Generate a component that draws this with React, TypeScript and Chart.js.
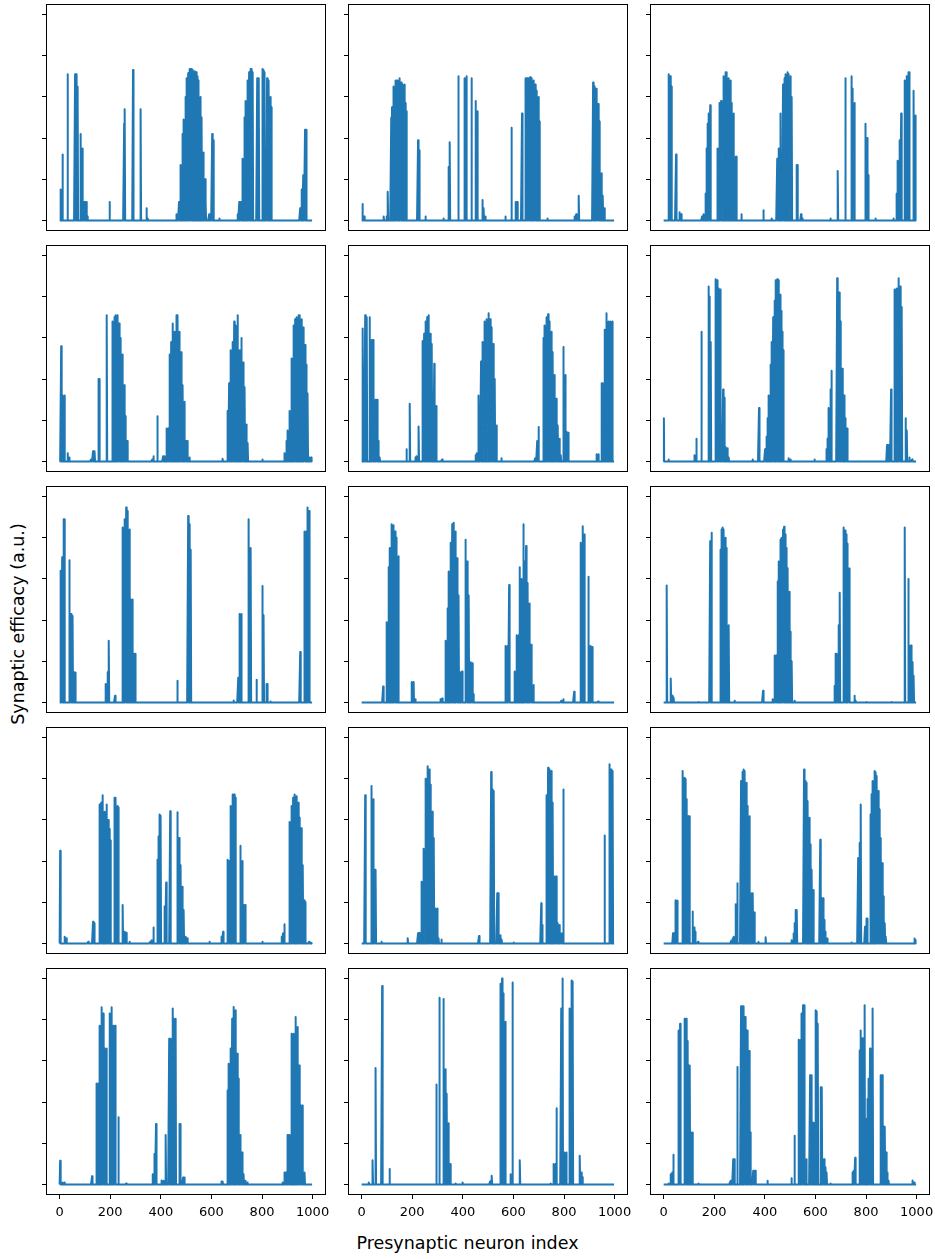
import React, { useEffect, useRef } from "react";
import { Chart, registerables } from "chart.js";

Chart.register(...registerables);
Chart.defaults.font.family = "'DejaVu Sans', sans-serif";

type Pair = [number, number];

// ---- data ----
const N_NEURONS = 1000;
const xTicks = [0, 200, 400, 600, 800, 1000];
const yTicks = [0, 0.2, 0.4, 0.6, 0.8, 1.0];
const xLabel = "Presynaptic neuron index";
const yLabel = "Synaptic efficacy (a.u.)";

// [neuron index, efficacy] for each panel (row by row); all other neurons are 0
const w1: Pair[] = [[3,0.15],[11,0.32],[32,0.71],[61,0.71],[68,0.71],[72,0.65],[84,0.42],[90,0.35],[97,0.09],[102,0.09],[106,0.09],[111,0.02],[197,0.09],[255,0.47],[258,0.54],[290,0.73],[321,0.54],[343,0.06],[349,0.01],
  [462,0.03],[472,0.09],[479,0.27],[485,0.42],[491,0.49],[498,0.6],[503,0.69],[508,0.715],[514,0.735],[520,0.735],[527,0.73],[533,0.725],[540,0.72],[545,0.7],[549,0.68],[556,0.6],[562,0.5],[569,0.33],[575,0.2],[578,0.09],
  [591,0.03],[603,0.42],[607,0.39],[632,0.01],
  [704,0.03],[710,0.09],[717,0.09],[723,0.3],[730,0.5],[736,0.58],[743,0.68],[749,0.72],[754,0.735],[759,0.735],[764,0.72],[781,0.69],[788,0.69],[801,0.735],[806,0.73],[810,0.72],[820,0.69],[827,0.68],[833,0.6],[836,0.55],
  [951,0.06],[957,0.15],[963,0.22],[970,0.44],[975,0.44]];
const w2: Pair[] = [[3,0.08],[10,0.02],[88,0.02],[98,0.02],[104,0.14],[117,0.5],[120,0.55],[127,0.65],[133,0.68],[140,0.68],[149,0.69],[156,0.67],[162,0.66],[169,0.66],[175,0.57],[178,0.53],[223,0.39],[228,0.34],[252,0.02],[324,0.01],[344,0.26],[349,0.38],[382,0.7],[408,0.69],[414,0.7],[435,0.69],[451,0.58],[458,0.53],[477,0.1],[483,0.06],[490,0.02],[568,0.02],[592,0.45],[608,0.09],[615,0.09],[634,0.52],[647,0.69],[654,0.69],[660,0.69],[666,0.695],[673,0.69],[679,0.68],[686,0.66],[692,0.63],[699,0.6],[702,0.48],[734,0.01],[842,0.02],[848,0.03],[859,0.12],[915,0.67],[921,0.65],[927,0.64],[935,0.565],[941,0.48],[948,0.23],[954,0.12],[960,0.06]];
const w3: Pair[] = [[20,0.71],[26,0.7],[32,0.65],[49,0.32],[63,0.04],[69,0.03],[152,0.02],[158,0.03],[165,0.13],[171,0.35],[175,0.47],[179,0.52],[184,0.56],[213,0.35],[220,0.57],[227,0.58],[237,0.7],[244,0.72],[250,0.72],[258,0.69],[264,0.68],[270,0.57],[277,0.52],[285,0.31],[287,0.31],[307,0.03],[395,0.05],[428,0.01],[449,0.3],[456,0.35],[461,0.52],[472,0.66],[477,0.69],[482,0.71],[489,0.72],[493,0.71],[501,0.7],[507,0.6],[527,0.27],[530,0.27],[543,0.03],[549,0.01],[659,0.01],[689,0.24],[718,0.69],[742,0.7],[747,0.64],[754,0.57],[798,0.47],[804,0.4],[809,0.22],[837,0.01],[909,0.01],[920,0.13],[926,0.29],[933,0.39],[939,0.52],[954,0.68],[961,0.7],[967,0.72],[972,0.72],[989,0.63],[996,0.51]];
const w4: Pair[] = [[6,0.56],[13,0.32],[19,0.32],[32,0.04],[39,0.02],[124,0.01],[132,0.05],[139,0.05],[153,0.4],[158,0.4],[187,0.71],[209,0.68],[216,0.7],[222,0.71],[229,0.71],[235,0.67],[242,0.6],[248,0.52],[255,0.37],[261,0.22],[267,0.1],[366,0.01],[371,0.025],[387,0.22],[409,0.025],[416,0.025],[422,0.16],[429,0.16],[435,0.52],[441,0.58],[448,0.67],[454,0.63],[461,0.71],[467,0.71],[474,0.63],[480,0.53],[487,0.37],[493,0.29],[500,0.1],[506,0.1],[514,0.02],[645,0.013],[664,0.245],[670,0.38],[677,0.54],[683,0.58],[690,0.68],[696,0.66],[703,0.71],[712,0.54],[719,0.6],[725,0.48],[732,0.36],[738,0.18],[744,0.09],[802,0.01],[889,0.04],[896,0.1],[902,0.15],[909,0.245],[918,0.5],[925,0.66],[931,0.69],[938,0.7],[944,0.71],[950,0.71],[957,0.69],[963,0.65],[970,0.565],[976,0.47],[981,0.33],[989,0.02],[994,0.02]];
const w5: Pair[] = [[5,0.645],[14,0.71],[21,0.7],[32,0.7],[39,0.59],[45,0.59],[55,0.3],[61,0.3],[66,0.1],[72,0.02],[177,0.06],[191,0.28],[212,0.02],[217,0.025],[226,0.17],[241,0.585],[247,0.62],[254,0.68],[259,0.7],[265,0.71],[271,0.62],[278,0.57],[287,0.475],[296,0.27],[318,0.01],[450,0.03],[456,0.04],[463,0.32],[472,0.485],[478,0.58],[486,0.68],[493,0.69],[501,0.72],[508,0.69],[514,0.65],[520,0.57],[527,0.4],[533,0.175],[553,0.016],[686,0.016],[694,0.1],[699,0.167],[718,0.6],[724,0.66],[731,0.7],[737,0.715],[743,0.68],[750,0.63],[756,0.53],[763,0.42],[769,0.305],[776,0.175],[782,0.11],[788,0.03],[798,0.556],[805,0.42],[811,0.145],[816,0.14],[930,0.035],[936,0.035],[948,0.38],[954,0.38],[960,0.64],[968,0.72],[975,0.68],[985,0.68],[991,0.68]];
const w6: Pair[] = [[1,0.21],[20,0.01],[123,0.03],[129,0.11],[149,0.63],[177,0.85],[182,0.8],[187,0.58],[206,0.885],[211,0.88],[217,0.84],[223,0.835],[235,0.35],[240,0.31],[246,0.07],[253,0.065],[258,0.02],[353,0.01],[377,0.26],[401,0.06],[406,0.12],[411,0.21],[416,0.32],[422,0.47],[428,0.58],[433,0.7],[439,0.78],[444,0.88],[449,0.885],[455,0.88],[460,0.81],[465,0.73],[470,0.63],[474,0.54],[495,0.016],[501,0.01],[596,0.01],[643,0.06],[648,0.11],[653,0.26],[659,0.35],[664,0.44],[686,0.89],[694,0.82],[699,0.68],[706,0.45],[713,0.32],[718,0.21],[725,0.16],[883,0.08],[889,0.08],[899,0.35],[914,0.835],[920,0.84],[929,0.89],[935,0.85],[942,0.75],[957,0.21],[962,0.15],[972,0.02],[982,0.01]];
const w7: Pair[] = [[3,0.64],[10,0.705],[16,0.89],[19,0.89],[39,0.69],[45,0.43],[52,0.42],[58,0.147],[63,0.145],[182,0.09],[189,0.147],[195,0.3],[219,0.033],[250,0.85],[256,0.89],[263,0.946],[269,0.93],[276,0.84],[282,0.5],[288,0.5],[295,0.237],[300,0.237],[466,0.106],[508,0.905],[514,0.865],[519,0.742],[688,0.01],[706,0.12],[712,0.43],[719,0.43],[748,0.89],[756,0.75],[778,0.11],[801,0.566],[807,0.424],[817,0.09],[822,0.09],[833,0.005],[951,0.245],[968,0.83],[975,0.83],[981,0.946],[986,0.93]];
const w8: Pair[] = [[85,0.078],[100,0.39],[106,0.656],[112,0.75],[119,0.865],[125,0.86],[132,0.83],[138,0.8],[145,0.71],[199,0.1],[206,0.1],[212,0.016],[313,0.016],[318,0.02],[332,0.3],[339,0.456],[345,0.636],[351,0.775],[358,0.865],[365,0.873],[371,0.83],[377,0.7],[384,0.52],[390,0.147],[397,0.15],[411,0.79],[417,0.685],[424,0.52],[430,0.196],[437,0.19],[443,0.04],[570,0.274],[577,0.274],[583,0.57],[606,0.15],[614,0.326],[620,0.326],[625,0.656],[633,0.6],[639,0.865],[644,0.685],[650,0.76],[657,0.58],[663,0.48],[670,0.28],[679,0.085],[789,0.008],[798,0.016],[840,0.052],[867,0.775],[874,0.856],[880,0.815],[896,0.61],[904,0.274],[911,0.27],[935,0.005]];
const w9: Pair[] = [[13,0.568],[29,0.117],[34,0.033],[40,0.025],[138,0.003],[184,0.783],[190,0.824],[224,0.742],[228,0.84],[233,0.85],[238,0.84],[244,0.8],[249,0.75],[258,0.375],[281,0.008],[393,0.057],[430,0.016],[440,0.228],[445,0.228],[451,0.587],[456,0.685],[461,0.79],[466,0.8],[472,0.84],[476,0.853],[481,0.815],[486,0.75],[491,0.652],[497,0.538],[502,0.343],[507,0.2],[518,0.008],[675,0.08],[680,0.237],[685,0.237],[692,0.375],[697,0.533],[711,0.85],[717,0.835],[722,0.815],[727,0.77],[733,0.65],[754,0.033],[759,0.008],[801,0.003],[900,0.003],[954,0.85],[968,0.6],[975,0.277],[980,0.277],[985,0.196],[989,0.13]];
const w10: Pair[] = [[2,0.45],[21,0.033],[26,0.025],[113,0.008],[132,0.106],[137,0.098],[158,0.675],[164,0.683],[171,0.72],[177,0.64],[185,0.675],[192,0.6],[198,0.556],[201,0.5],[216,0.707],[222,0.707],[229,0.667],[232,0.66],[250,0.187],[256,0.057],[263,0.052],[277,0.008],[358,0.008],[364,0.016],[371,0.078],[387,0.406],[390,0.52],[396,0.626],[400,0.62],[414,0.18],[421,0.296],[437,0.642],[466,0.637],[472,0.512],[479,0.38],[485,0.276],[491,0.163],[498,0.033],[504,0.025],[593,0.008],[640,0.033],[646,0.057],[664,0.406],[670,0.4],[677,0.667],[683,0.723],[690,0.723],[696,0.707],[715,0.475],[722,0.4],[728,0.187],[733,0.187],[801,0.008],[877,0.033],[883,0.049],[889,0.093],[910,0.59],[917,0.667],[923,0.707],[930,0.723],[936,0.715],[943,0.683],[949,0.61],[955,0.56],[962,0.38],[967,0.21],[970,0.2],[986,0.008],[994,0.003]];
const w11: Pair[] = [[14,0.72],[40,0.765],[47,0.7],[53,0.358],[56,0.358],[79,0.008],[183,0.025],[223,0.05],[230,0.052],[238,0.3],[244,0.46],[252,0.8],[260,0.86],[267,0.845],[273,0.77],[279,0.64],[286,0.512],[292,0.17],[299,0.17],[305,0.025],[316,0.02],[464,0.037],[512,0.832],[519,0.748],[523,0.74],[536,0.244],[541,0.244],[548,0.04],[554,0.02],[601,0.005],[710,0.195],[715,0.09],[731,0.72],[737,0.853],[744,0.845],[750,0.837],[756,0.683],[763,0.325],[769,0.325],[776,0.098],[782,0.09],[789,0.049],[798,0.748],[961,0.524],[980,0.87],[986,0.845],[993,0.837]];
const w12: Pair[] = [[37,0.05],[42,0.05],[47,0.21],[53,0.207],[76,0.837],[82,0.805],[87,0.797],[92,0.7],[97,0.618],[103,0.618],[115,0.155],[120,0.078],[125,0.057],[136,0.008],[267,0.013],[273,0.024],[278,0.033],[285,0.19],[291,0.293],[306,0.789],[311,0.832],[316,0.845],[321,0.837],[327,0.78],[332,0.667],[339,0.618],[348,0.244],[353,0.244],[358,0.15],[375,0.008],[404,0.03],[507,0.016],[513,0.049],[518,0.098],[523,0.163],[527,0.163],[555,0.845],[560,0.789],[565,0.78],[570,0.69],[576,0.61],[581,0.48],[586,0.358],[592,0.26],[619,0.504],[625,0.22],[630,0.22],[635,0.114],[640,0.057],[646,0.024],[743,0.005],[769,0.415],[775,0.488],[780,0.675],[796,0.081],[801,0.122],[805,0.122],[817,0.626],[822,0.724],[827,0.789],[833,0.837],[838,0.83],[843,0.813],[848,0.74],[854,0.65],[859,0.512],[864,0.39],[870,0.228],[875,0.098],[879,0.033],[991,0.024],[996,0.016]];
const w13: Pair[] = [[2,0.115],[11,0.01],[19,0.01],[128,0.04],[147,0.49],[154,0.49],[159,0.77],[165,0.86],[172,0.83],[178,0.66],[185,0.66],[198,0.83],[206,0.86],[212,0.77],[219,0.77],[233,0.326],[263,0.005],[368,0.05],[374,0.148],[381,0.294],[404,0.02],[410,0.018],[420,0.24],[433,0.708],[439,0.708],[446,0.854],[452,0.805],[459,0.805],[473,0.294],[478,0.294],[488,0.034],[494,0.034],[639,0.015],[645,0.015],[663,0.456],[669,0.586],[676,0.66],[682,0.805],[689,0.862],[695,0.846],[702,0.635],[708,0.513],[715,0.24],[721,0.156],[728,0.05],[734,0.018],[742,0.01],[882,0.01],[888,0.058],[895,0.058],[901,0.24],[907,0.24],[917,0.732],[924,0.732],[934,0.813],[940,0.765],[947,0.578],[953,0.383],[959,0.383],[969,0.058]];
const w14: Pair[] = [[29,0.01],[44,0.118],[56,0.566],[81,0.963],[111,0.075],[295,0.485],[308,0.906],[323,0.9],[331,0.56],[337,0.44],[344,0.297],[350,0.1],[371,0.005],[400,0.01],[508,0.015],[515,0.042],[548,0.975],[555,1.0],[561,0.927],[568,0.79],[589,0.05],[597,0.98],[626,0.118],[748,0.005],[760,0.1],[766,0.1],[771,0.37],[789,0.854],[795,1.0],[803,0.156],[810,0.156],[823,0.854],[829,0.99],[835,0.985],[863,0.14],[869,0.058],[874,0.035]];
const w15: Pair[] = [[20,0.005],[29,0.05],[34,0.058],[38,0.144],[59,0.748],[65,0.78],[83,0.805],[89,0.805],[94,0.696],[99,0.578],[104,0.578],[110,0.253],[114,0.253],[139,0.005],[260,0.01],[266,0.018],[275,0.123],[280,0.123],[291,0.57],[306,0.865],[312,0.865],[317,0.865],[322,0.813],[328,0.748],[333,0.748],[338,0.648],[343,0.253],[354,0.067],[362,0.067],[410,0.018],[506,0.03],[518,0.237],[535,0.703],[540,0.7],[546,0.83],[551,0.87],[556,0.87],[565,0.123],[579,0.53],[584,0.53],[589,0.3],[594,0.3],[600,0.846],[605,0.84],[610,0.78],[621,0.472],[626,0.472],[634,0.123],[639,0.083],[645,0.058],[660,0.005],[746,0.058],[752,0.066],[757,0.13],[774,0.65],[780,0.748],[785,0.71],[795,0.87],[801,0.318],[806,0.415],[811,0.513],[816,0.66],[827,0.854],[859,0.53],[864,0.53],[869,0.282],[875,0.28],[880,0.156],[885,0.058],[890,0.018],[985,0.02],[991,0.01]];

const panels: Pair[][] = [w1, w2, w3, w4, w5, w6, w7, w8, w9, w10, w11, w12, w13, w14, w15];

// ---- layout / style ----
const ROWS = 5;
const COLS = 3;
const COL_LEFT = [47, 349, 651];
const ROW_TOP = [5, 246, 487, 728, 969];
const PANEL_W = 278;
const PANEL_H = 225;
const PAD_L = 14;
const PAD_R = 14;
const PAD_T = 4;
const X_AXIS_H = 36;
const X_MIN = -50;
const X_MAX = 1049;
const Y_MIN = -0.046;
const Y_MAX = 1.046;
const LINE_COLOR = "#1f77b4";
const FONT = "'DejaVu Sans', sans-serif";

function toSeries(pairs: Pair[]) {
  const vals: number[] = new Array(N_NEURONS).fill(0);
  for (const [i, v] of pairs) vals[i] = v;
  return vals.map((y, x) => ({ x, y }));
}

const framePlugin = {
  id: "frame",
  afterDraw(chart: any) {
    const { ctx, chartArea: a } = chart;
    ctx.save();
    ctx.strokeStyle = "#000";
    ctx.lineWidth = 1;
    const l = Math.round(a.left), t = Math.round(a.top);
    const r = Math.round(a.right), b = Math.round(a.bottom);
    ctx.strokeRect(l - 0.5, t - 0.5, r - l + 1, b - t + 1);
    ctx.restore();
  },
};

function Panel({ pairs, row, col }: { pairs: Pair[]; row: number; col: number }) {
  const ref = useRef<HTMLCanvasElement | null>(null);
  const isBottom = row === ROWS - 1;
  useEffect(() => {
    if (!ref.current) return;
    const chart = new Chart(ref.current, {
      type: "line",
      data: {
        datasets: [
          {
            data: toSeries(pairs),
            borderColor: LINE_COLOR,
            borderWidth: 2,
            pointRadius: 0,
            borderJoinStyle: "round",
            tension: 0,
            fill: false,
          } as any,
        ],
      },
      options: {
        animation: false,
        responsive: true,
        maintainAspectRatio: false,
        parsing: false,
        normalized: true,
        events: [],
        layout: { padding: { left: PAD_L - 6, top: PAD_T, right: PAD_R, bottom: isBottom ? 0 : PAD_T } },
        plugins: { legend: { display: false }, tooltip: { enabled: false }, title: { display: false } },
        scales: {
          x: {
            type: "linear",
            min: X_MIN,
            max: X_MAX,
            display: isBottom,
            afterBuildTicks: (s: any) => {
              s.ticks = xTicks.map((value) => ({ value }));
            },
            afterFit: (s: any) => {
              s.height = isBottom ? X_AXIS_H : 0;
            },
            ticks: {
              display: true,
              color: "#000",
              font: { family: FONT, size: 13 },
              padding: 6,
              maxRotation: 0,
              autoSkip: false,
              callback: (v: any) => String(v),
            },
            grid: { display: true, drawOnChartArea: false, drawTicks: true, tickLength: 5, color: "#000", lineWidth: 1 },
            border: { display: false },
          },
          y: {
            type: "linear",
            min: Y_MIN,
            max: Y_MAX,
            afterBuildTicks: (s: any) => {
              s.ticks = yTicks.map((value) => ({ value }));
            },
            afterFit: (s: any) => {
              s.width = 6;
            },
            ticks: { display: false },
            grid: { display: true, drawOnChartArea: false, drawTicks: true, tickLength: 5, color: "#000", lineWidth: 1 },
            border: { display: false },
          },
        },
      } as any,
      plugins: [framePlugin],
    });
    return () => chart.destroy();
  }, [pairs, isBottom]);

  const style: React.CSSProperties = {
    position: "absolute",
    left: COL_LEFT[col] - PAD_L,
    top: ROW_TOP[row] - PAD_T,
    width: PANEL_W + PAD_L + PAD_R,
    height: PANEL_H + PAD_T + (isBottom ? X_AXIS_H : PAD_T),
  };
  return (
    <div style={style}>
      <canvas ref={ref} />
    </div>
  );
}

export default function App() {
  return (
    <div
      style={{
        position: "absolute",
        left: 0,
        top: 0,
        width: 935,
        height: 1259,
        background: "#fff",
        overflow: "hidden",
        fontFamily: FONT,
      }}
    >
      {panels.map((p, i) => (
        <Panel key={i} pairs={p} row={Math.floor(i / COLS)} col={i % COLS} />
      ))}
      <div
        style={{
          position: "absolute",
          left: 0,
          top: 1232,
          width: 935,
          textAlign: "center",
          fontSize: 17.5,
          lineHeight: "22px",
          color: "#000",
          whiteSpace: "nowrap",
        }}
      >
        {xLabel}
      </div>
      <div
        style={{
          position: "absolute",
          left: 18,
          top: 624,
          transform: "translate(-50%, -50%) rotate(-90deg)",
          fontSize: 17.5,
          lineHeight: "22px",
          color: "#000",
          whiteSpace: "nowrap",
        }}
      >
        {yLabel}
      </div>
    </div>
  );
}
